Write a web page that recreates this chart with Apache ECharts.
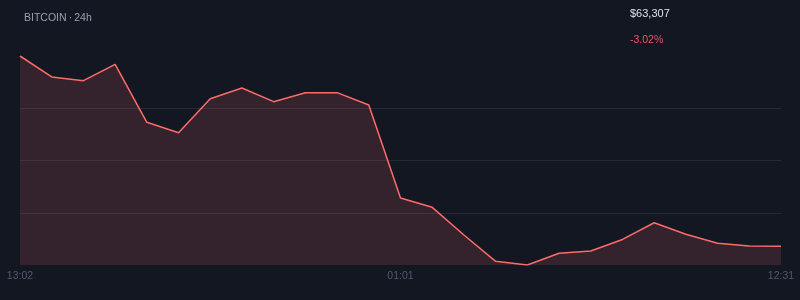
<!DOCTYPE html>
<html>
<head>
<meta charset="utf-8">
<style>
html,body{margin:0;padding:0;background:#131722;}
#chart{width:800px;height:300px;}
</style>
<script src="https://cdn.jsdelivr.net/npm/echarts@6/dist/echarts.min.js"></script>
</head>
<body>
<div id="chart"></div>
<script>
// Data
const times = ['13:02','14:02','15:02','16:02','17:02','18:02','19:02','20:02','21:02','22:02','23:02','00:02','01:01','02:01','03:01','04:01','05:01','06:01','07:01','08:01','09:01','10:01','11:01','12:01','12:31'];
const prices = [65340,65123,65085,65254,64655,64547,64899,65009,64868,64961,64961,64834,63872,63776,63490,63218,63180,63301,63325,63444,63617,63497,63404,63376,63373];
const shownLabels = ['13:02','01:01','12:31'];
const titleText = 'BITCOIN\u2009·\u200924h';
const priceText = '$63,307';
const changeText = '-3.02%';

const yStep = 540;
const yMin = Math.min(...prices);
const yMax = Math.max(...prices);

const chart = echarts.init(document.getElementById('chart'), null, {renderer:'canvas'});
const font = "'Liberation Sans', Arial, sans-serif";
chart.setOption({
  backgroundColor:'#131722',
  animation:false,
  grid:{left:20,right:19,top:56,bottom:35,containLabel:false},
  graphic:[
    {type:'text',left:24,top:13,style:{text:titleText,fill:'#99a0b0',fontSize:10.5,fontFamily:font}},
    {type:'text',left:630,top:8,style:{text:priceText,fill:'#dfe2ea',fontSize:11,fontFamily:font}},
    {type:'text',left:630,top:35,style:{text:changeText,fill:'#e8595c',fontSize:10.5,fontFamily:font}}
  ],
  xAxis:{
    type:'category',
    data:times,
    boundaryGap:false,
    axisLine:{show:false},
    axisTick:{show:false},
    splitLine:{show:false},
    axisLabel:{
      color:'#535a6c',
      fontSize:10.5,
      fontFamily:font,
      margin:6,
      interval:0,
      formatter:(v)=>shownLabels.includes(v)?v:'',
      showMinLabel:true,
      showMaxLabel:true
    }
  },
  yAxis:{
    type:'value',
    min:yMin,
    max:yMax,
    interval:yStep,
    axisLine:{show:false},
    axisTick:{show:false},
    axisLabel:{show:false},
    splitLine:{show:true,showMinLine:false,showMaxLine:false,lineStyle:{color:'#262a35',width:1}}
  },
  series:[{
    type:'line',
    data:prices,
    symbol:'none',
    lineStyle:{color:'#ff6b6b',width:1.5},
    areaStyle:{color:'rgba(255,107,107,0.14)',opacity:1}
  }]
});
</script>
</body>
</html>
